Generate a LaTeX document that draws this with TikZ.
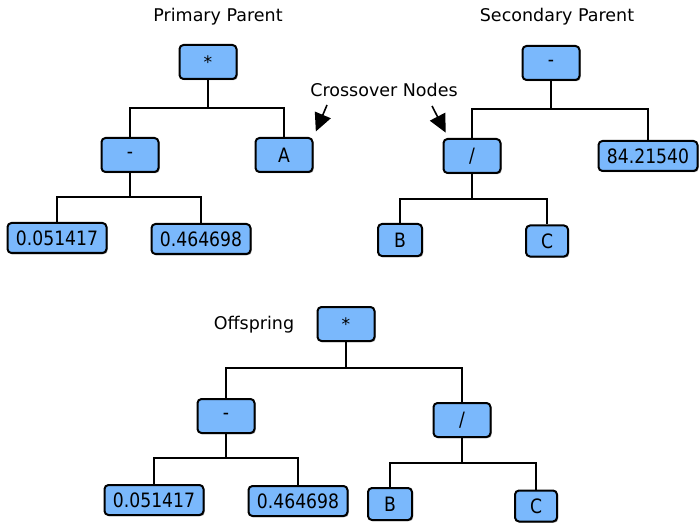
\documentclass[tikz,border=0pt]{standalone}
\usepackage{fontspec}
\setmainfont{DejaVu Sans}
\usepackage{xcolor}
\usepackage{graphicx}
\usepackage{tikz}
\usetikzlibrary{arrows.meta,shadows}
\definecolor{boxblue}{RGB}{122,184,252}
\newcommand{\boxtext}[1]{\scalebox{1}[1.15]{#1}}

\tikzset{
    tnode/.style={draw=black, line width=2pt, fill=boxblue, rounded corners=4pt,
        minimum width=57pt, minimum height=34pt, inner sep=3pt,
        font=\fontsize{17.2}{17}\selectfont,
        drop shadow={shadow xshift=1.2pt, shadow yshift=-1.2pt, fill=black!60, opacity=.6}},
    leaf/.style={tnode, minimum width=44pt, minimum height=32pt},
    num/.style={tnode, minimum width=99pt, minimum height=30pt},
    lbl/.style={font=\fontsize{17.5}{17.5}\selectfont},
    link/.style={line width=2pt, black},
    pointer/.style={line width=1.6pt, -{Triangle[length=18pt,width=17pt]}, shorten >=6pt}
}

\begin{document}
\begin{tikzpicture}[x=1pt, y=-1pt]
    \useasboundingbox (0,0) rectangle (700,526);

    \node[lbl] (ptitle) at (218,17) {Primary Parent};
    \node[lbl] (stitle) at (557,17) {Secondary Parent};
    \node[lbl] (cross) at (384,90) {Crossover Nodes};
    \node[lbl] (otitle) at (254,325) {Offspring};

    \node[tnode] (pmul) at (208,62) {\raisebox{-0.4ex}{*}};
    \node[tnode] (psub) at (130,155) {\boxtext{-}};
    \node[tnode] (pa) at (284,155) {\boxtext{A}};
    \node[num] (pn1) at (57,238) {\boxtext{0.051417}};
    \node[num] (pn2) at (201,239) {\boxtext{0.464698}};

    \node[tnode] (ssub) at (551,63) {\boxtext{-}};
    \node[tnode] (sdiv) at (472,156) {\boxtext{/}};
    \node[num] (sn) at (648,156) {\boxtext{84.21540}};
    \node[leaf] (sb) at (400,240) {\boxtext{B}};
    \node[leaf, minimum width=42pt, minimum height=31pt] (sc) at (547,241) {\boxtext{C}};

    \node[tnode] (omul) at (346,324) {\raisebox{-0.4ex}{*}};
    \node[tnode] (osub) at (226,416) {\boxtext{-}};
    \node[tnode] (odiv) at (462,420) {\boxtext{/}};
    \node[num] (on1) at (154,500) {\boxtext{0.051417}};
    \node[num] (on2) at (298,501) {\boxtext{0.464698}};
    \node[leaf] (ob) at (390,504) {\boxtext{B}};
    \node[leaf, minimum width=42pt, minimum height=31pt] (oc) at (536,506) {\boxtext{C}};

    \draw[link] (pmul.south) -- ++(0,28) coordinate (pj1);
    \draw[link] (psub.north) |- (pj1) -| (pa.north);
    \draw[link] (psub.south) -- ++(0,24) coordinate (pj2);
    \draw[link] (pn1.north) |- (pj2) -| (pn2.north);

    \draw[link] (ssub.south) -- ++(0,28) coordinate (sj1);
    \draw[link] (sdiv.north) |- (sj1) -| (sn.north);
    \draw[link] (sdiv.south) -- ++(0,25) coordinate (sj2);
    \draw[link] (sb.north) |- (sj2) -| (sc.north);

    \draw[link] (omul.south) -- ++(0,26) coordinate (oj1);
    \draw[link] (osub.north) |- (oj1) -| (odiv.north);
    \draw[link] (osub.south) -- ++(0,24) coordinate (oj2);
    \draw[link] (on1.north) |- (oj2) -| (on2.north);
    \draw[link] (odiv.south) -- ++(0,25) coordinate (oj3);
    \draw[link] (ob.north) |- (oj3) -| (oc.north);

    \coordinate (cl) at (327,105);
    \coordinate (cr) at (432,106);
    \draw[pointer] (cl) -- (pa.north east);
    \draw[pointer] (cr) -- ([xshift=6pt]sdiv.north west);
\end{tikzpicture}
\end{document}
